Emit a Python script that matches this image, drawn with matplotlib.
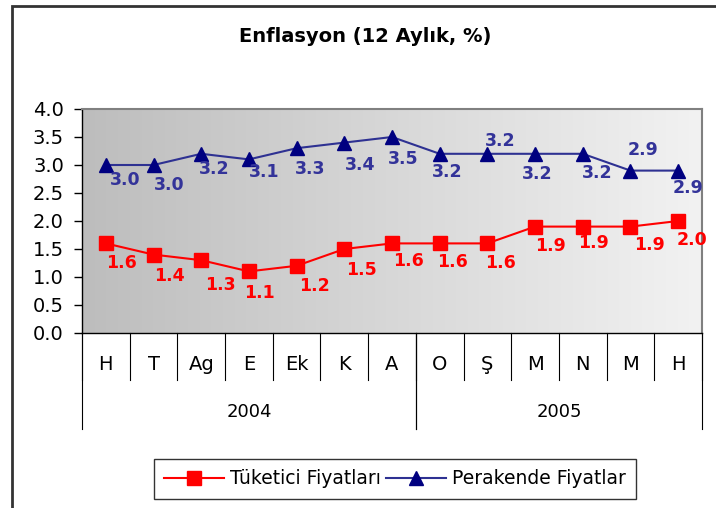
import numpy as np
import matplotlib
matplotlib.use('Agg')
import matplotlib.pyplot as plt
from matplotlib.colors import LinearSegmentedColormap
from matplotlib.lines import Line2D
from matplotlib.patches import Rectangle

## data
months = ['H', 'T', 'Ag', 'E', 'Ek', 'K', 'A', 'O', 'Ş', 'M', 'N', 'M', 'H']
years = ['2004', '2005']
year_counts = [7, 6]
tufe = [1.6, 1.4, 1.3, 1.1, 1.2, 1.5, 1.6, 1.6, 1.6, 1.9, 1.9, 1.9, 2.0]
perakende = [3.0, 3.0, 3.2, 3.1, 3.3, 3.4, 3.5, 3.2, 3.2, 3.2, 3.2, 2.9, 2.9]

# label offsets in pixels (dx, dy), dy positive = down
off_tufe = [(16, 20), (16, 21), (19, 25), (11, 22), (18, 20), (17, 21), (16, 18),
            (13, 19), (13, 20), (15, 19), (11, 16), (19, 18), (14, 19)]
off_per = [(19, 15), (16, 20), (13, 15), (15, 13), (14, 21), (16, 22), (11, 22),
           (7, 18), (13, -13), (2, 20), (14, 19), (13, -21), (10, 17)]

plt.rcParams['font.family'] = ['DejaVu Sans']

fig = plt.figure(figsize=(7.16, 5.08), dpi=100)
W, H = 716, 508
ax = fig.add_axes([82 / W, 1 - 333 / H, 620 / W, 224 / H])

n = len(months)
x = np.arange(n)
ax.set_xlim(-0.5, n - 0.5)
ax.set_ylim(0, 4)

# gradient plot area
cmap = LinearSegmentedColormap.from_list('g', ['#bdbdbd', '#f2f2f2'])
grad = np.linspace(0, 1, 256).reshape(1, -1)
ax.imshow(grad, cmap=cmap, aspect='auto', extent=(-0.5, n - 0.5, 0, 4), zorder=0)

ax.plot(x, tufe, color='#ff0000', lw=1.5, marker='s', ms=9.5, mfc='#ff0000', mec='#ff0000',
        zorder=3, label='Tüketici Fiyatları')
ax.plot(x, perakende, color='#2e3192', lw=1.5, marker='^', ms=9.5, mfc='#000080', mec='#000080',
        zorder=3, label='Perakende Fiyatlar')

for i in range(n):
    ax.annotate('%.1f' % tufe[i], (x[i], tufe[i]), xytext=(off_tufe[i][0], -off_tufe[i][1]),
                textcoords='offset pixels', ha='center', va='center', color='#ff0000',
                fontsize=12.5, fontweight='bold', zorder=4)
    ax.annotate('%.1f' % perakende[i], (x[i], perakende[i]), xytext=(off_per[i][0], -off_per[i][1]),
                textcoords='offset pixels', ha='center', va='center', color='#333399',
                fontsize=12.5, fontweight='bold', zorder=4)

ax.set_yticks(np.arange(0, 4.01, 0.5))
ax.set_yticklabels(['%.1f' % v for v in np.arange(0, 4.01, 0.5)], fontsize=14)
ax.tick_params(axis='y', length=6, width=1, pad=7)
ax.set_xticks([])

for s in ['top', 'right']:
    ax.spines[s].set_color('#808080')
    ax.spines[s].set_linewidth(1.5)
for s in ['left', 'bottom']:
    ax.spines[s].set_color('black')
    ax.spines[s].set_linewidth(1)

# category axis (months + years)
trans = ax.get_xaxis_transform()
y_month = -32 / 224
y_month_tick = -47 / 224
y_year = -79 / 224
y_year_tick = -96 / 224
for i in range(n):
    ax.text(x[i], y_month, months[i], transform=trans, ha='center', va='center', fontsize=14)
for b in np.arange(-0.5, n, 1.0):
    ax.plot([b, b], [0, y_month_tick], transform=trans, color='black', lw=0.8, clip_on=False)
start = 0
for yr, c in zip(years, year_counts):
    ax.text(start + c / 2 - 0.5, y_year, yr, transform=trans, ha='center', va='center', fontsize=13)
    for b in [start - 0.5, start + c - 0.5]:
        ax.plot([b, b], [0, y_year_tick], transform=trans, color='black', lw=0.8, clip_on=False)
    start += c

fig.text(365 / W, 1 - 37 / H, 'Enflasyon (12 Aylık, %)', ha='center', va='center',
         fontsize=14, fontweight='bold')

# legend
handles = [Line2D([], [], color='#ff0000', lw=1.5, marker='s', ms=9.5, mfc='#ff0000', mec='#ff0000'),
           Line2D([], [], color='#2e3192', lw=1.5, marker='^', ms=9.5, mfc='#000080', mec='#000080')]
leg = fig.legend(handles, ['Tüketici Fiyatları', 'Perakende Fiyatlar'], loc='center',
                 bbox_to_anchor=(395 / W, 1 - 479 / H), ncol=2, fontsize=13.5, frameon=True,
                 fancybox=False, edgecolor='black', handlelength=3.2, handletextpad=0.3,
                 columnspacing=0.3, borderpad=0.55, borderaxespad=0)
leg.get_frame().set_linewidth(1)

# outer chart border
fig.patches.append(Rectangle((12 / W, -0.05), 1.1, 1 - 6 / H + 0.05, transform=fig.transFigure,
                             fill=False, edgecolor='#333333', lw=2))

plt.savefig('out.png', dpi=100)
